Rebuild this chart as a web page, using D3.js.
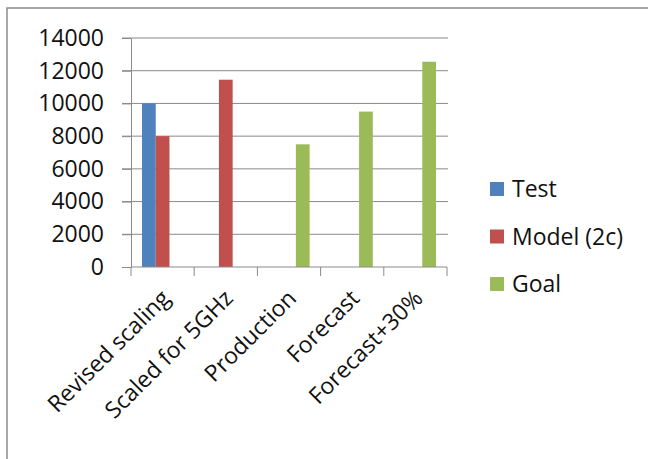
<!DOCTYPE html>
<html>
<head>
<meta charset="utf-8">
<script src="https://cdn.jsdelivr.net/npm/d3@7"></script>
<style>
  html, body { margin: 0; padding: 0; background: #fff; }
  svg { display: block; }
  text { font-family: "Open Sans", sans-serif; fill: #111; }
</style>
</head>
<body>
<svg id="chart" width="648" height="459"></svg>
<script>
// Categories along the x axis
const categories = ["Revised scaling", "Scaled for 5GHz", "Production", "Forecast", "Forecast+30%"];
// Series names and colours
const seriesNames = ["Test", "Model (2c)", "Goal"];
const seriesColors = ["#4F81BD", "#C0504D", "#9BBB59"];
// Values per series, one entry per category (null = no bar)
const testValues  = [10000, null, null, null, null];
const modelValues = [8000, 11450, null, null, null];
const goalValues  = [null, null, 7500, 9500, 12550];
// Y axis ticks
const yTicks = [0, 2000, 4000, 6000, 8000, 10000, 12000, 14000];

const seriesValues = [testValues, modelValues, goalValues];

const svg = d3.select("#chart");

// Chart area frame
svg.append("rect")
  .attr("x", 7).attr("y", 8)
  .attr("width", 700).attr("height", 500)
  .attr("fill", "#fff")
  .attr("stroke", "#8c8c8c").attr("stroke-width", 1.5);

const plot = { left: 131, right: 447, top: 38, bottom: 267 };

const x0 = d3.scaleBand().domain(categories).range([plot.left, plot.right]).padding(0);
const x1 = d3.scaleBand().domain(seriesNames).range([0, x0.bandwidth()])
  .paddingInner(0).paddingOuter(0.8);
const y = d3.scaleLinear().domain([0, 14000]).range([plot.bottom, plot.top]);

// Horizontal gridlines
svg.append("g").selectAll("line")
  .data(yTicks.filter(d => d > 0))
  .join("line")
  .attr("x1", plot.left - 9).attr("x2", plot.right + 1)
  .attr("y1", d => y(d)).attr("y2", d => y(d))
  .attr("stroke", "#8a8a8a").attr("stroke-width", 1);

// Bars
const barData = [];
seriesValues.forEach((vals, si) => {
  vals.forEach((v, ci) => {
    if (v != null) barData.push({ cat: categories[ci], series: seriesNames[si], color: seriesColors[si], value: v });
  });
});
svg.append("g").selectAll("rect")
  .data(barData)
  .join("rect")
  .attr("x", d => x0(d.cat) + x1(d.series))
  .attr("width", x1.bandwidth())
  .attr("y", d => y(d.value))
  .attr("height", d => y(0) - y(d.value))
  .attr("fill", d => d.color);

// Y axis
const yAxis = d3.axisLeft(y).tickValues(yTicks).tickSize(9).tickPadding(18).tickFormat(d3.format("d"));
const gy = svg.append("g").attr("transform", `translate(${plot.left},0)`).call(yAxis);
gy.select(".domain").attr("stroke", "#8a8a8a");
gy.selectAll(".tick line").attr("stroke", "#8a8a8a");
gy.selectAll("text").attr("font-size", 23).attr("fill", "#111").attr("font-family", "Open Sans, sans-serif");

// X axis with boundary ticks between categories
const gx = svg.append("g");
gx.append("line")
  .attr("x1", plot.left).attr("x2", plot.right)
  .attr("y1", plot.bottom).attr("y2", plot.bottom)
  .attr("stroke", "#8a8a8a");
const bounds = categories.map(c => x0(c)).concat([x0(categories[categories.length - 1]) + x0.bandwidth()]);
gx.selectAll("line.tick")
  .data(bounds)
  .join("line").attr("class", "tick")
  .attr("x1", d => d).attr("x2", d => d)
  .attr("y1", plot.bottom).attr("y2", plot.bottom + 9)
  .attr("stroke", "#8a8a8a");
gx.selectAll("text")
  .data(categories)
  .join("text")
  .attr("transform", d => `translate(${x0(d) + x0.bandwidth() / 2 + 3},${plot.bottom + 27}) rotate(-45)`)
  .attr("text-anchor", "end")
  .attr("dy", "0.35em")
  .attr("font-size", 23)
  .text(d => d);

// Legend
const legend = svg.append("g").attr("transform", "translate(490,182)");
const items = legend.selectAll("g")
  .data(seriesNames)
  .join("g")
  .attr("transform", (d, i) => `translate(0,${i * 47.5})`);
items.append("rect")
  .attr("width", 14).attr("height", 14)
  .attr("fill", (d, i) => seriesColors[i]);
items.append("text")
  .attr("x", 22).attr("y", 7)
  .attr("dy", "0.36em")
  .attr("font-size", 23)
  .text(d => d);
</script>
</body>
</html>
